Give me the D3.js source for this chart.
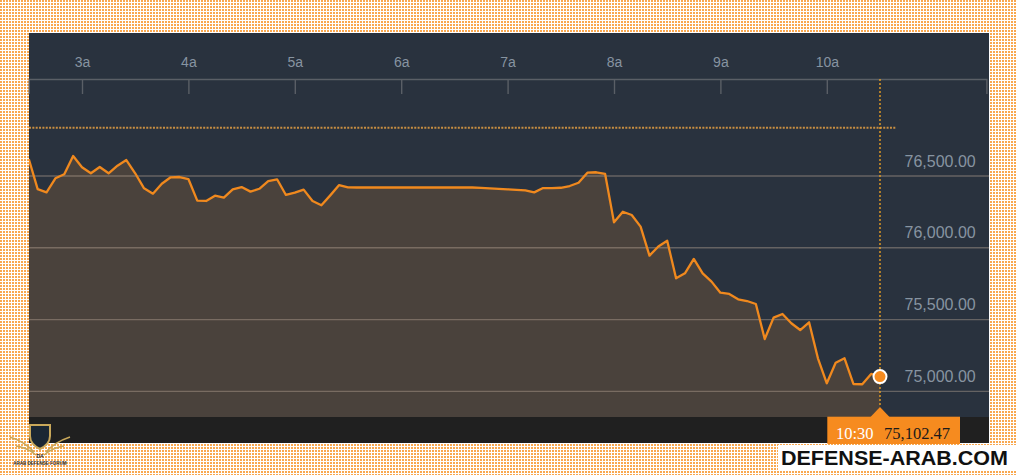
<!DOCTYPE html>
<html><head><meta charset="utf-8">
<script src="https://cdn.jsdelivr.net/npm/d3@7"></script>
<style>html,body{margin:0;padding:0;background:#fff;} svg{display:block}</style>
</head><body><svg id="c" width="1017" height="475"></svg>
<script>
const times = [
"02:30","02:35","02:40","02:45","02:50","02:55",
"03:00","03:05","03:10","03:15","03:20","03:25","03:30","03:35","03:40","03:45","03:50","03:55",
"04:00","04:05","04:10","04:15","04:20","04:25","04:30","04:35","04:40","04:45","04:50","04:55",
"05:00","05:05","05:10","05:15","05:20","05:25","05:30","05:35","05:40","05:45","05:50","05:55",
"06:00","06:05","06:10","06:15","06:20","06:25","06:30","06:35","06:40","06:45","06:50","06:55",
"07:00","07:05","07:10","07:15","07:20","07:25","07:30","07:35","07:40","07:45","07:50","07:55",
"08:00","08:05","08:10","08:15","08:20","08:25","08:30","08:35","08:40","08:45","08:50","08:55",
"09:00","09:05","09:10","09:15","09:20","09:25","09:30","09:35","09:40","09:45","09:50","09:55",
"10:00","10:05","10:10","10:15","10:20","10:25","10:30"];
const values = [
76618,76409,76386,76484,76512,76639,
76561,76519,76563,76519,76572,76611,76519,76414,76377,76446,76491,76493,
76479,76328,76326,76363,76349,76407,76423,76391,76411,76465,76477,76368,
76384,76405,76326,76296,76365,76437,76421,76420,76420,76420,76420,76420,
76420,76420,76420,76420,76420,76420,76420,76420,76420,76417,76414,76410,
76407,76404,76400,76386,76416,76416,76418,76430,76453,76523,76526,76514,
76177,76251,76228,76147,75945,76009,76049,75787,75822,75922,75822,75764,
75687,75678,75641,75629,75608,75364,75513,75539,75474,75427,75481,75230,
75056,75199,75230,75051,75049,75121,75102.47];
const hourTicks = ["03:00","04:00","05:00","06:00","07:00","08:00","09:00","10:00"];
const tickLabels = ["3a","4a","5a","6a","7a","8a","9a","10a"];
const yTicks = [75000,75500,76000,76500];
const domainStart = "02:30", domainEnd = "11:30";
const prevClose = 76836;
const prevCloseEnd = "10:39";
const lastTime = "10:30";
const lastValue = 75102.47;
const watermark = "DEFENSE-ARAB.COM";

const parse = d3.timeParse("%H:%M");
const data = times.map((t,i)=>({t:parse(t), v:values[i]}));
const svg = d3.select("#c");

// background texture
const defs = svg.append("defs");
const pat = defs.append("pattern").attr("id","dots").attr("width",3).attr("height",3).attr("patternUnits","userSpaceOnUse");
pat.append("rect").attr("width",3).attr("height",3).attr("fill","#ffffff");
pat.append("rect").attr("width",2).attr("height",2).attr("fill","#f9a84f");
svg.append("rect").attr("width",1017).attr("height",475).attr("fill","url(#dots)");

const P = {l:29, r:989, t:33, b:443, plotB:417, axisY:79};
defs.append("clipPath").attr("id","clip").append("rect")
  .attr("x",P.l).attr("y",P.t).attr("width",P.r-P.l).attr("height",P.plotB-P.t);

svg.append("rect").attr("x",P.l).attr("y",P.t).attr("width",P.r-P.l).attr("height",P.b-P.t).attr("fill","#29323e");

const x = d3.scaleTime().domain([parse(domainStart), parse(domainEnd)]).range([28.8, 986.4]);
const y = d3.scaleLinear().domain([75000,76500]).range([391.3,176]);

const g = svg.append("g").attr("clip-path","url(#clip)");
g.append("path").datum(data)
  .attr("d", d3.area().x(d=>x(d.t)).y0(P.plotB).y1(d=>y(d.v)))
  .attr("fill","#4a423c");

// gridlines
g.selectAll("line.grid").data(yTicks).join("line").attr("class","grid")
  .attr("x1",P.l).attr("x2",P.r).attr("y1",d=>y(d)).attr("y2",d=>y(d))
  .attr("stroke","rgba(200,180,160,0.38)").attr("stroke-width",1.3);

// y labels
svg.selectAll("text.yl").data(yTicks).join("text").attr("class","yl")
  .attr("x",975.7).attr("y",d=>y(d)-9.5).attr("text-anchor","end")
  .attr("font-family","'Liberation Sans', Arial, sans-serif").attr("font-size",16)
  .attr("fill","#8794a1").text(d=>d3.format(",.2f")(d));

// previous close dotted
svg.append("line").attr("x1",P.l).attr("x2",x(parse(prevCloseEnd)))
  .attr("y1",y(prevClose)).attr("y2",y(prevClose))
  .attr("stroke","#c78e42").attr("stroke-width",2).attr("stroke-dasharray","2,1.35");

// top axis
const axis = d3.axisTop(x).tickValues(hourTicks.map(parse))
  .tickFormat((d,i)=>tickLabels[i]).tickSizeInner(-15).tickSizeOuter(-15).tickPadding(12.5);
const ax = svg.append("g").attr("transform",`translate(0,${P.axisY})`).call(axis);
ax.select(".domain").attr("stroke","#5a5f66").attr("stroke-width",1.4);
ax.selectAll(".tick line").attr("stroke","#5a5f66").attr("stroke-width",1.4);
ax.selectAll(".tick text").attr("fill","#8794a1").attr("font-size",14)
  .attr("font-family","'Liberation Sans', Arial, sans-serif");

// bottom bar
svg.append("rect").attr("x",P.l).attr("y",P.plotB).attr("width",P.r-P.l).attr("height",P.b-P.plotB).attr("fill","#202020");

// vertical dotted marker
const lx = x(parse(lastTime));
svg.append("line").attr("x1",lx).attr("x2",lx).attr("y1",P.axisY).attr("y2",407)
  .attr("stroke","#f5a623").attr("stroke-width",1.3).attr("stroke-dasharray","2,2");

// line
g.append("path").datum(data)
  .attr("d", d3.line().x(d=>x(d.t)).y(d=>y(d.v)))
  .attr("fill","none").attr("stroke","#f0891e").attr("stroke-width",2.3)
  .attr("stroke-linejoin","round");

// end circle
svg.append("circle").attr("cx",lx).attr("cy",y(lastValue)).attr("r",6.5)
  .attr("fill","#f68b1f").attr("stroke","#ffffff").attr("stroke-width",2);

// tooltip
svg.append("rect").attr("x",827.3).attr("y",416.7).attr("width",132.7).attr("height",27.3).attr("fill","#f68b1f");
svg.append("path").attr("d",`M${lx-9.5},417 L${lx},407 L${lx+9.5},417 Z`).attr("fill","#f68b1f");
svg.append("text").attr("x",836).attr("y",438.8).attr("font-family","'Liberation Serif', 'Times New Roman', serif")
  .attr("font-size",16.5).attr("fill","#ffffff").text(lastTime);
svg.append("text").attr("x",884).attr("y",438.8).attr("font-family","'Liberation Serif', 'Times New Roman', serif")
  .attr("font-size",16.5).attr("fill","#1a1a1a").text(d3.format(",.2f")(lastValue));

// watermark
svg.append("rect").attr("x",778).attr("y",445).attr("width",239).attr("height",26).attr("fill","#ffffff");
svg.append("text").attr("x",781).attr("y",464.5).attr("font-family","'Liberation Sans', Arial, sans-serif")
  .attr("font-weight","bold").attr("font-size",21).attr("fill","#111111")
  .attr("textLength",227).attr("lengthAdjust","spacingAndGlyphs").text(watermark);

// small logo
const lg = svg.append("g");
lg.append("path").attr("d","M10,437 Q25,442 34,452 M70,437 Q55,442 46,452 M16,446 Q28,448 36,455 M64,446 Q52,448 44,455")
  .attr("stroke","#c9a85a").attr("stroke-width",1.5).attr("fill","none");
lg.append("path").attr("d","M30,425 L50,425 L50,436 Q50,444 40,449 Q30,444 30,436 Z")
  .attr("fill","#1b2733").attr("stroke","#c9a85a").attr("stroke-width",2);
lg.append("text").attr("x",40).attr("y",458).attr("text-anchor","middle").attr("font-size",5).attr("font-weight","bold")
  .attr("font-family","'Liberation Sans', Arial, sans-serif").attr("fill","#2b2b2b").text("DA");
lg.append("text").attr("x",40).attr("y",465).attr("text-anchor","middle").attr("font-size",4.5).attr("font-weight","bold")
  .attr("font-family","'Liberation Sans', Arial, sans-serif").attr("fill","#2b2b2b").text("ARAB DEFENSE FORUM");
</script></body></html>
